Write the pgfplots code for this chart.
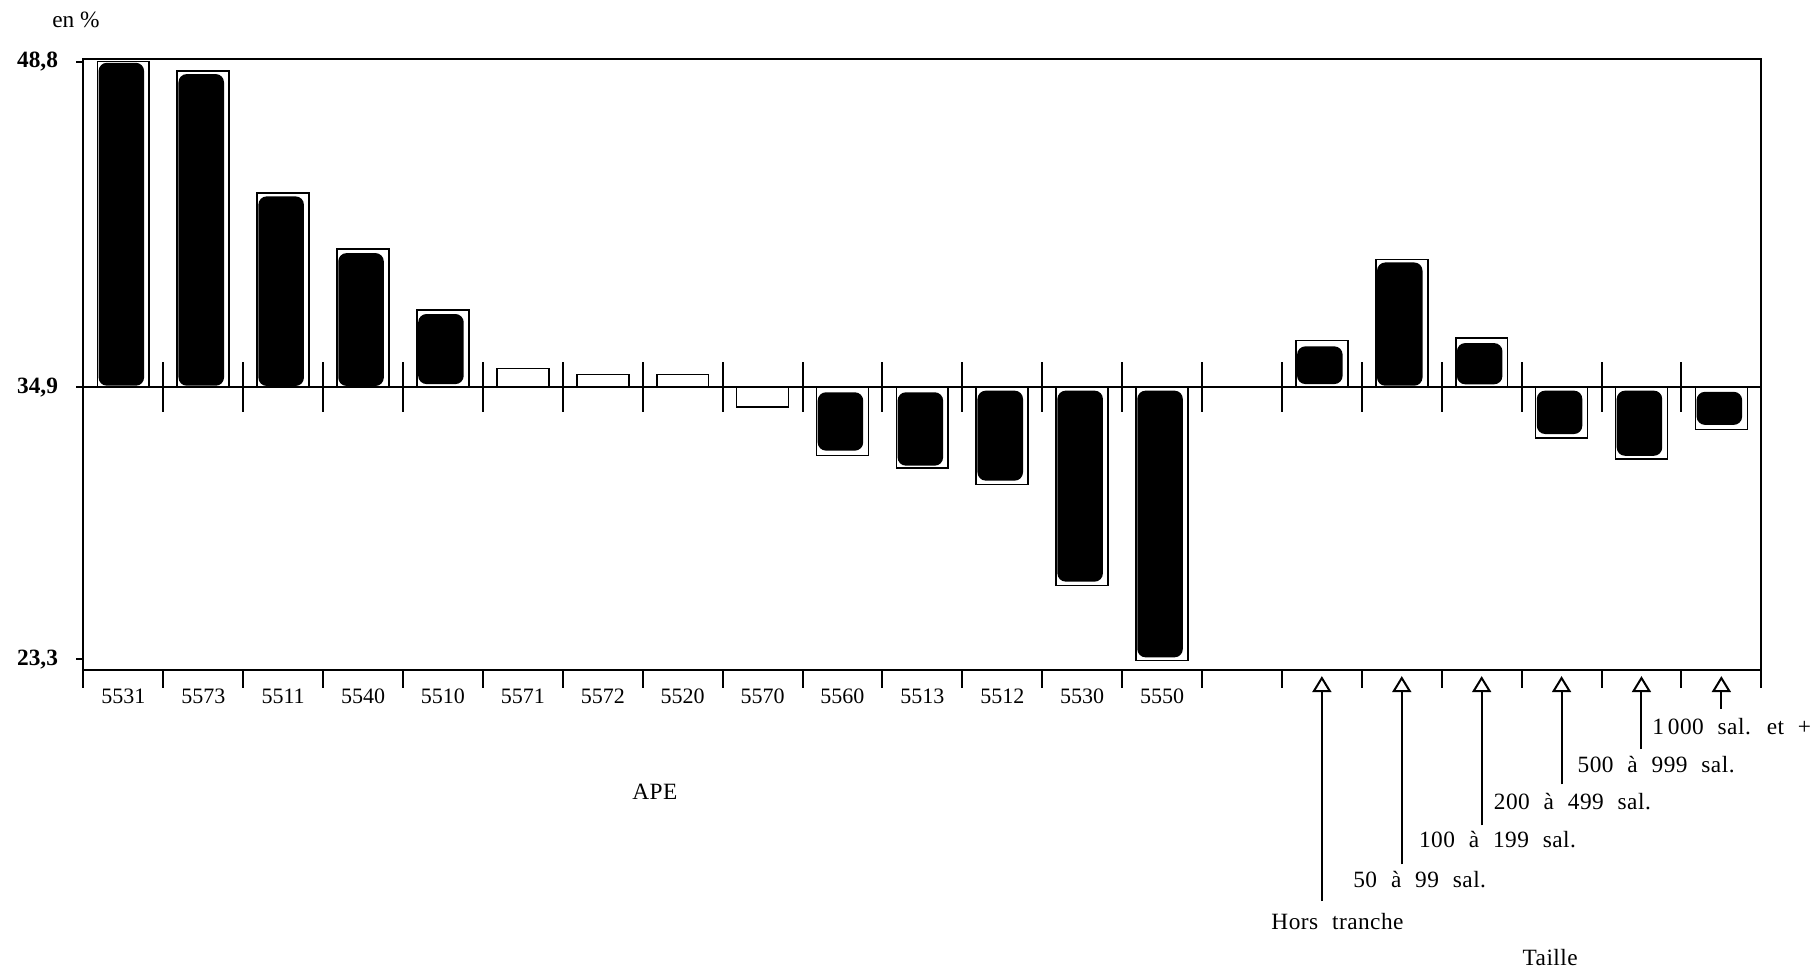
\documentclass[border=0pt]{standalone}
\usepackage{fontspec}
\setmainfont{Liberation Serif}
\newfontfamily\spaced{Liberation Serif}[LetterSpace=2,WordSpace=2.2]
\usepackage{pgfplots}
\pgfplotsset{compat=1.18}
\usepackage{pgfplotstable}
\usetikzlibrary{arrows.meta}

% outline boxes: value in %
\pgfplotstableread{
x v
0 48.8
1 48.4
2 43.2
3 40.8
4 38.2
5 35.7
6 35.45
7 35.45
8 34.05
9 32.0
10 31.45
11 30.75
12 26.45
13 23.25
15 36.9
16 40.35
17 37.0
18 32.75
19 31.85
20 33.1
}\outlines

% black blobs: start and end in %
\pgfplotstableread{
x s e
0 34.97 48.75
1 34.97 48.27
2 34.96 43.05
3 34.96 40.63
4 35.04 38.03
9 34.69 32.20
10 34.69 31.56
11 34.76 30.92
12 34.76 26.61
13 34.76 23.38
15 35.04 36.65
16 34.97 40.23
17 35.03 36.79
18 34.76 32.91
19 34.76 31.98
20 34.71 33.30
}\blobs

\pgfplotsset{common/.style={
  width=503.37pt, height=183.21pt, scale only axis,
  xmin=-0.5, xmax=20.5, ymin=-12.06, ymax=14.0,
  at={(0pt,0pt)}, anchor=south west,
}}

\begin{document}
\begin{tikzpicture}
\useasboundingbox (-25.02pt,-90pt) rectangle (520.08pt,201pt);
\begin{axis}[common,
  axis line style={line width=0.6pt},
  tick align=outside,
  xtick={0,...,13},
  xticklabels={5531,5573,5511,5540,5510,5571,5572,5520,5570,5560,5513,5512,5530,5550},
  xtick style={draw=none},
  major tick length=2.1pt,
  xtick pos=bottom, ytick pos=left,
  ytick={-11.6,0,13.9},
  yticklabels={{23,3},{34,9},{48,8}},
  yticklabel style={font=\bfseries\fontsize{7}{8}\selectfont, xshift=-2pt},
  xticklabel style={font=\fontsize{6.6}{8}\selectfont, yshift=0pt},
  tick style={line width=0.6pt, black},
  clip=false,
]
\addplot[ybar, bar width=0.65, bar shift=0, draw=black, line width=0.5pt, fill=white]
  table[x=x, y expr=\thisrow{v}-34.9]{\outlines};

\draw[line width=0.6pt] (axis cs:-0.5,0) -- (axis cs:20.5,0);
\pgfplotsinvokeforeach{0.5,1.5,...,19.5}{
  \draw[line width=0.6pt] (axis cs:#1,1.07) -- (axis cs:#1,-1.07);
}
\pgfplotsinvokeforeach{-0.5,0.5,...,20.5}{
  \draw[line width=0.6pt] (axis cs:#1,-12.06) -- (axis cs:#1,-12.83);
}

% arrows for size classes
\draw[line width=0.6pt, -{Triangle[open, length=4.8pt, width=5.7pt]}] (axis cs:15,-21.92) -- (axis cs:15,-12.32);
\draw[line width=0.6pt, -{Triangle[open, length=4.8pt, width=5.7pt]}] (axis cs:16,-20.35) -- (axis cs:16,-12.32);
\draw[line width=0.6pt, -{Triangle[open, length=4.8pt, width=5.7pt]}] (axis cs:17,-18.69) -- (axis cs:17,-12.32);
\draw[line width=0.6pt, -{Triangle[open, length=4.8pt, width=5.7pt]}] (axis cs:18,-16.94) -- (axis cs:18,-12.32);
\draw[line width=0.6pt, -{Triangle[open, length=4.8pt, width=5.7pt]}] (axis cs:19,-15.44) -- (axis cs:19,-12.32);
\draw[line width=0.6pt, -{Triangle[open, length=4.8pt, width=5.7pt]}] (axis cs:20,-13.71) -- (axis cs:20,-12.32);

\begin{scope}[every node/.style={anchor=base west, inner sep=0pt, font=\spaced\fontsize{7}{8}\selectfont}]
\node at (axis cs:14.361,-23.12) {Hors tranche};
\node at (axis cs:15.386,-21.34) {50 à 99 sal.};
\node at (axis cs:16.208,-19.64) {100 à 199 sal.};
\node at (axis cs:17.145,-18.00) {200 à 499 sal.};
\node at (axis cs:18.193,-16.44) {500 à 999 sal.};
\node at (axis cs:19.128,-14.80) {1\,000 sal. et +};
\node at (axis cs:17.504,-24.69) {Taille};
\node at (axis cs:6.362,-17.58) {APE};
\end{scope}
\node[anchor=base west, inner sep=0pt, font=\fontsize{7}{8}\selectfont] at (axis cs:-0.897,15.35) {en \%};
\end{axis}

\begin{axis}[common, hide axis, ybar stacked, bar width=0.57, bar shift=-0.025]
\addplot[draw=none, fill=none] table[x=x, y expr=\thisrow{s}-34.9]{\blobs};
\addplot[fill=black, draw=none, rounded corners=2.5pt] table[x=x, y expr=\thisrow{e}-\thisrow{s}]{\blobs};
\end{axis}
\end{tikzpicture}
\end{document}
